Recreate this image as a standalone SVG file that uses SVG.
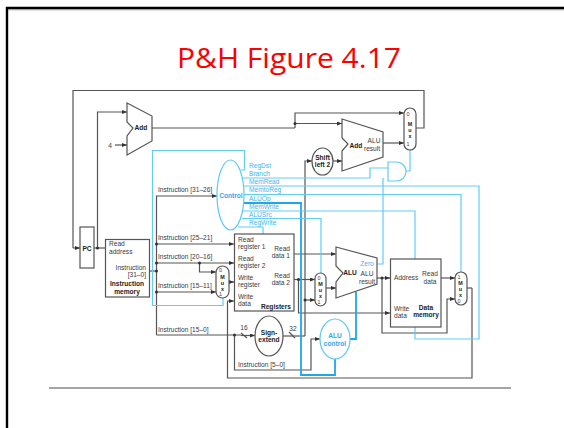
<svg xmlns="http://www.w3.org/2000/svg" width="564" height="428" viewBox="0 0 564 428">
<style>
text{font-family:"Liberation Sans",Arial,sans-serif;font-size:6.6px;fill:#3a3a3a}
.b{font-weight:bold;fill:#222}
.m{text-anchor:middle}
.e{text-anchor:end}
.x{font-size:5.4px}
.c{fill:#45b4ee}
.cb{fill:#30a8ea;font-weight:bold}
.s{fill:#fff;stroke:#555;stroke-width:1.2}
.sc{fill:#fff;stroke:#5cc8f5;stroke-width:1.2}
.w{fill:none;stroke:#555;stroke-width:1.2}
.a{fill:none;stroke:#555;stroke-width:1.2;marker-end:url(#ar)}
.l{fill:none;stroke:#63cbf6;stroke-width:1.2}
.t{fill:none;stroke:#1fa6ea;stroke-width:1.8}
.d{fill:#333}
</style>
<defs>
<marker id="ar" markerUnits="userSpaceOnUse" markerWidth="5" markerHeight="4" refX="5" refY="2" orient="auto"><path d="M0 0L5 2L0 4Z" fill="#333"/></marker>
</defs>
<rect width="564" height="428" fill="#fff"/>
<path d="M7 428V8H564" fill="none" stroke="#000" stroke-width="2.4"/>
<path d="M8 9.800H564" stroke="#888" stroke-width="0.8"/>
<rect x="49" y="387" width="462" height="2" fill="#a4a4a4"/>
<text x="289" y="67.500" text-anchor="middle" textLength="224" lengthAdjust="spacingAndGlyphs" style="font-family:'Open Sans',sans-serif;font-size:28px;fill:#f00">P&amp;H Figure 4.17</text>

<g id="connectors">
<path class="w" d="M416 128H424V90.500H73V248"/>
<path class="a" d="M73 248H80"/>
<path class="w" d="M94 248H105"/>
<path class="a" d="M97.500 248V112H127"/>
<path class="a" d="M115 145H127"/>
<path class="w" d="M152 128H295"/>
<path class="a" d="M295 128V113H404"/>
<path class="a" d="M295 123.500H342"/>
<path class="a" d="M383 143H404"/>
<path class="a" d="M333 161H342"/>
<path class="w" d="M149 271H156.500"/>
<path class="a" d="M156.500 335V196H217"/>
<path class="a" d="M156.500 244H234"/>
<path class="a" d="M156.500 263H234"/>
<path class="a" d="M199.500 263V272H216"/>
<path class="a" d="M156.500 292H216"/>
<path class="a" d="M229 282H234"/>
<path class="w" d="M156.500 335H241"/>
<path class="a" d="M241 335.500H255"/>
<path class="w" d="M241 333L247 338"/>
<path class="a" d="M234.500 335V370H311V339H320"/>
<path class="a" d="M472 288V378H227.500V301H234"/>
<path class="w" d="M467 288H472"/>
<path class="w" d="M283 336H305"/>
<path class="w" d="M289 332L295 338"/>
<path class="a" d="M305 336V161H312"/>
<path class="a" d="M305 300H315"/>
<path class="a" d="M294 254H336"/>
<path class="a" d="M294 279.500H315"/>
<path class="a" d="M298.500 279.500V313H390"/>
<path class="a" d="M326 288H336"/>
<path class="a" d="M377 278H390"/>
<path class="a" d="M382 278V333H447V299H455"/>
<path class="a" d="M441 278H455"/>
<path class="l" d="M241 170H244.500V150.500H152.500V305.500H223V298"/>
<path class="l" d="M241 178H370V168H388"/>
<path class="l" d="M383 178V264H377"/>
<path class="l" d="M406 171H410V150"/>
<path class="l" d="M243 186H479V339H415V327"/>
<path class="l" d="M244 194.500H461V272"/>
<path class="t" d="M244 203H301V375H335V359"/>
<path class="l" d="M243 211H415V259"/>
<path class="l" d="M242 218.500H321V273"/>
<path class="l" d="M238 227H263V234"/>
<path class="t" d="M356 292V339H349"/>
<g class="d">
<circle cx="97.500" cy="248" r="1.500"/><circle cx="295" cy="123.500" r="1.500"/>
<circle cx="156.500" cy="244" r="1.500"/><circle cx="156.500" cy="263" r="1.500"/><circle cx="156.500" cy="271" r="1.500"/><circle cx="156.500" cy="292" r="1.500"/>
<circle cx="199.500" cy="263" r="1.500"/><circle cx="234.500" cy="335" r="1.500"/>
<circle cx="298.500" cy="279.500" r="1.500"/><circle cx="305" cy="300" r="1.500"/><circle cx="382" cy="278" r="1.500"/>
</g>
</g>

<g id="pc"><rect class="s" x="80" y="227" width="14" height="41"/><text class="b m" x="87" y="250.500">PC</text></g>
<g id="add1"><path class="s" d="M127 103L152 116V141L127 155V136L133 128L127 122Z"/><text class="b m" x="141" y="129.500">Add</text></g>
<g id="four"><text class="m" x="110" y="147.500">4</text></g>
<g id="instruction-memory"><rect class="s" x="105.500" y="239.500" width="44" height="57.500"/>
<text x="109" y="246">Read</text><text x="109" y="254">address</text>
<text class="e" x="146" y="270">Instruction</text><text class="e" x="146" y="277">[31–0]</text>
<text class="b m" x="127" y="286">Instruction</text><text class="b m" x="127" y="293.500">memory</text></g>
<g id="instruction-labels">
<text x="158" y="192">Instruction [31–26]</text>
<text x="158" y="240">Instruction [25–21]</text>
<text x="158" y="259">Instruction [20–16]</text>
<text x="158" y="288">Instruction [15–11]</text>
<text x="158" y="332">Instruction [15–0]</text>
<text x="238" y="367">Instruction [5–0]</text>
<text class="m" x="244" y="330">16</text>
<text class="m" x="293" y="331">32</text>
</g>
<g id="mux-regdst"><rect class="s" x="216" y="266" width="13" height="32" rx="6.500"/>
<text class="m x" x="220.500" y="272">0</text><text class="b m x" x="222.500" y="278.500">M</text><text class="b m x" x="222.500" y="284.500">u</text><text class="b m x" x="222.500" y="290.500">x</text><text class="m x" x="220.500" y="296">1</text></g>
<g id="registers"><rect class="s" x="234.500" y="234" width="59.500" height="77"/>
<text x="238" y="242">Read</text><text x="238" y="249">register 1</text>
<text x="238" y="261">Read</text><text x="238" y="268">register 2</text>
<text x="238" y="280">Write</text><text x="238" y="287">register</text>
<text x="238" y="299">Write</text><text x="238" y="306">data</text>
<text class="e" x="290" y="251">Read</text><text class="e" x="290" y="258">data 1</text>
<text class="e" x="290" y="278">Read</text><text class="e" x="290" y="285">data 2</text>
<text class="b e" x="291" y="308.500">Registers</text></g>
<g id="control"><ellipse class="sc" cx="230.500" cy="195" rx="13.500" ry="35"/><text class="cb m" x="231" y="197.500">Control</text>
<text class="c" x="249" y="168">RegDst</text><text class="c" x="249" y="176">Branch</text><text class="c" x="249" y="184">MemRead</text><text class="c" x="249" y="192">MemtoReg</text><text class="c" x="249" y="200.500">ALUOp</text><text class="c" x="249" y="209">MemWrite</text><text class="c" x="249" y="216.500">ALUSrc</text><text class="c" x="249" y="225">RegWrite</text></g>
<g id="sign-extend"><ellipse class="s" cx="269" cy="336" rx="14" ry="20"/><text class="b m" x="269" y="334.500">Sign-</text><text class="b m" x="269" y="342">extend</text></g>
<g id="shift-left-2"><ellipse class="s" cx="322.500" cy="161.500" rx="10.500" ry="13.500"/><text class="b m" x="322.500" y="159.500">Shift</text><text class="b m" x="322.500" y="167">left 2</text></g>
<g id="add2"><path class="s" d="M342 119L383 132V157L342 171V151L348 144L342 138Z"/><text class="b m" x="356" y="147.500">Add</text><text class="m" x="374" y="143">ALU</text><text class="m" x="372" y="150.500">result</text></g>
<g id="mux-pc"><rect class="s" x="404" y="108" width="12" height="42" rx="6"/>
<text class="m x" x="408" y="115.500">0</text><text class="b m x" x="410" y="125.500">M</text><text class="b m x" x="410" y="131.500">u</text><text class="b m x" x="410" y="137.500">x</text><text class="m x" x="408" y="145.500">1</text></g>
<g id="and-gate"><path d="M388 162H396.500A9.500 9.500 0 0 1 396.500 181H388Z" fill="#fff" stroke="#63cbf6" stroke-width="1.200"/></g>
<g id="mux-alusrc"><rect class="s" x="315" y="273" width="11" height="33" rx="5.500"/>
<text class="m x" x="319" y="280">0</text><text class="b m x" x="320.500" y="286">M</text><text class="b m x" x="320.500" y="292">u</text><text class="b m x" x="320.500" y="298">x</text><text class="m x" x="319" y="304">1</text></g>
<g id="alu"><path class="s" d="M336 247L377 258V284L336 298V282L343 273L336 266Z"/><text class="b m" x="350" y="274.500">ALU</text><text class="m" x="367" y="276">ALU</text><text class="m" x="367" y="284">result</text><text class="c m" x="367" y="265.500">Zero</text></g>
<g id="alu-control"><ellipse class="sc" cx="335" cy="339" rx="15" ry="20"/><text class="cb m" x="335" y="337.500">ALU</text><text class="cb m" x="335" y="345.500">control</text></g>
<g id="data-memory"><rect class="s" x="390.500" y="259" width="50.500" height="68"/>
<text x="394" y="280">Address</text><text class="m" x="430" y="276">Read</text><text class="m" x="430" y="284">data</text>
<text x="394" y="311">Write</text><text x="394" y="318">data</text><text class="b m" x="426" y="309.500">Data</text><text class="b m" x="426" y="316.500">memory</text></g>
<g id="mux-memtoreg"><rect class="s" x="455" y="272" width="12" height="33" rx="6"/>
<text class="m x" x="459" y="279">1</text><text class="b m x" x="460.500" y="284.500">M</text><text class="b m x" x="460.500" y="290.500">u</text><text class="b m x" x="460.500" y="296.500">x</text><text class="m x" x="459" y="303">0</text></g>
</svg>
